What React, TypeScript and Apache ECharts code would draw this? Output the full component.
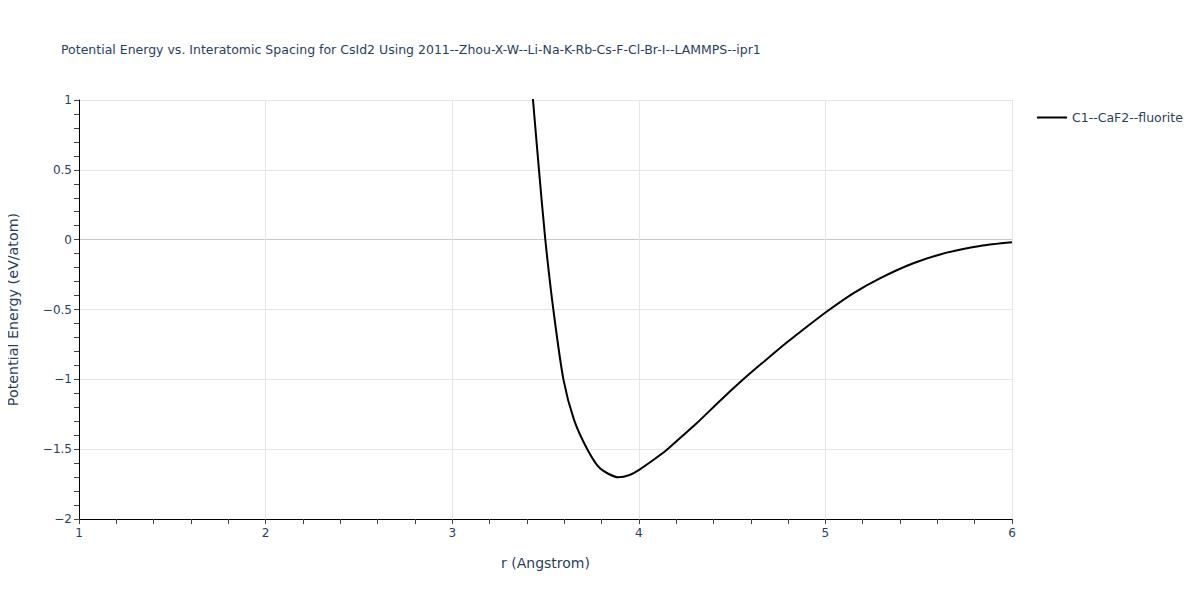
import React, { useEffect, useRef } from "react";
import * as echarts from "echarts";

const titleText =
  "Potential Energy vs. Interatomic Spacing for CsId2 Using 2011--Zhou-X-W--Li-Na-K-Rb-Cs-F-Cl-Br-I--LAMMPS--ipr1";
const seriesName = "C1--CaF2--fluorite";

const rValues = [
  3.42, 3.433, 3.465, 3.499, 3.542, 3.596, 3.653, 3.724, 3.792, 3.89, 3.95,
  4.006, 4.07, 4.149, 4.23, 4.31, 4.43, 4.56, 4.66, 4.757, 4.88, 5.006, 5.149,
  5.292, 5.471, 5.65, 5.829, 6.0,
];
const energyValues = [
  1.22, 1.0, 0.5, 0.0, -0.5, -1.0, -1.29, -1.5, -1.637, -1.701, -1.685,
  -1.644, -1.585, -1.506, -1.41, -1.315, -1.16, -1.0, -0.885, -0.775, -0.645,
  -0.516, -0.384, -0.277, -0.169, -0.093, -0.045, -0.019,
];

const xTicks = { min: 1, max: 6, interval: 1 };
const yTicks = { min: -2, max: 1, interval: 0.5 };

const textColor = "#2a3f5f";
const fontFamily = '"DejaVu Sans", verdana, arial, sans-serif';

export default function App() {
  const ref = useRef<HTMLDivElement>(null);
  useEffect(() => {
    if (!ref.current) return;
    const chart = echarts.init(ref.current, undefined, { renderer: "svg" });
    const data = rValues.map((r, i) => [r, energyValues[i]]);
    const fmt = (v: number) => String(v).replace("-", "\u2212");
    const ySplitColors: string[] = [];
    for (let v = yTicks.min; v <= yTicks.max + 1e-9; v += yTicks.interval) {
      ySplitColors.push(Math.abs(v) < 1e-9 ? "#c8c8c8" : "#e5e5e5");
    }
    chart.setOption({
      animation: false,
      backgroundColor: "#ffffff",
      textStyle: { fontFamily },
      title: {
        text: titleText,
        left: 56,
        top: 38,
        textStyle: { fontSize: 12.5, fontWeight: "normal", color: textColor, fontFamily },
      },
      legend: {
        left: 1032,
        top: 106,
        itemWidth: 30,
        itemHeight: 14,
        icon: "path://M0,6 L30,6 L30,8 L0,8 Z",
        textStyle: { fontSize: 12.5, color: textColor, fontFamily },
        data: [seriesName],
      },
      grid: {
        left: 79,
        right: 188,
        top: 100,
        bottom: 81,
        containLabel: false,
        outerBoundsMode: "none",
      },
      xAxis: {
        type: "value",
        min: xTicks.min,
        max: xTicks.max,
        interval: xTicks.interval,
        name: "r (Angstrom)",
        nameLocation: "middle",
        nameGap: 37,
        nameTextStyle: { fontSize: 14, color: textColor, fontFamily },
        axisLine: { show: true, onZero: false, lineStyle: { color: "#000000", width: 1 } },
        axisTick: { show: true, length: 5, lineStyle: { color: "#444444" } },
        minorTick: { show: true, splitNumber: 5, length: 5, lineStyle: { color: "#444444" } },
        axisLabel: { fontSize: 12, color: textColor, margin: 8, fontFamily, formatter: fmt },
        splitLine: { show: true, lineStyle: { color: "#e5e5e5", width: 1 } },
      },
      yAxis: {
        type: "value",
        min: yTicks.min,
        max: yTicks.max,
        interval: yTicks.interval,
        name: "Potential Energy (eV/atom)",
        nameLocation: "middle",
        nameGap: 59,
        nameTextStyle: { fontSize: 14.3, color: textColor, fontFamily },
        axisLine: { show: true, onZero: false, lineStyle: { color: "#000000", width: 1 } },
        axisTick: { show: true, length: 5, lineStyle: { color: "#444444" } },
        minorTick: { show: true, splitNumber: 5, length: 5, lineStyle: { color: "#444444" } },
        axisLabel: { fontSize: 12, color: textColor, margin: 7, fontFamily, formatter: fmt },
        splitLine: { show: true, lineStyle: { color: ySplitColors, width: 1 } },
      },
      series: [
        {
          name: seriesName,
          type: "line",
          data,
          symbol: "none",
          smooth: 0.25,
          clip: true,
          lineStyle: { color: "#000000", width: 2 },
          itemStyle: { color: "#000000" },
        },
      ],
    });
    return () => chart.dispose();
  }, []);
  return <div ref={ref} style={{ width: 1200, height: 600, margin: -8 }} />;
}
